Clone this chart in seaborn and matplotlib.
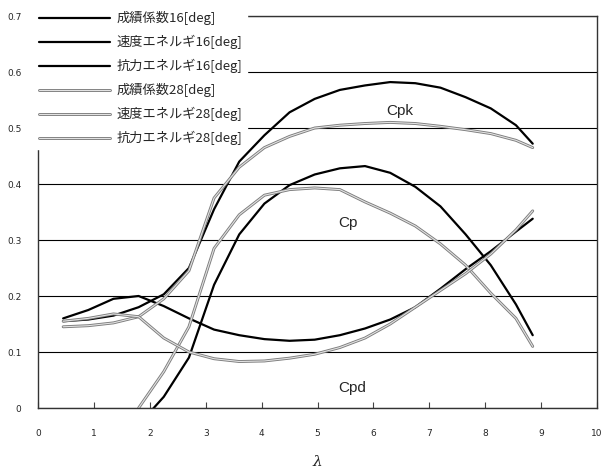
import matplotlib
matplotlib.use("Agg")
import matplotlib.pyplot as plt
import matplotlib.patheffects as pe
import seaborn as sns
import pandas as pd

# tip speed ratio
lam = [0.45, 0.9, 1.35, 1.8, 2.25, 2.7, 3.15, 3.6, 4.05, 4.5,
       4.95, 5.4, 5.85, 6.3, 6.75, 7.2, 7.65, 8.1, 8.55, 8.85]

# 16 deg blades
cpk16 = [0.155, 0.158, 0.165, 0.180, 0.203, 0.250, 0.355, 0.440, 0.487, 0.528,
         0.552, 0.568, 0.576, 0.582, 0.580, 0.572, 0.555, 0.535, 0.505, 0.472]
cpd16 = [0.160, 0.175, 0.195, 0.200, 0.182, 0.160, 0.140, 0.130, 0.123, 0.120,
         0.122, 0.130, 0.142, 0.158, 0.180, 0.213, 0.248, 0.280, 0.315, 0.338]
cp16 = [None, None, None, -0.030, 0.020, 0.090, 0.220, 0.310, 0.365, 0.398,
        0.417, 0.428, 0.432, 0.420, 0.395, 0.360, 0.310, 0.255, 0.185, 0.130]

# 28 deg blades
cpk28 = [0.145, 0.147, 0.152, 0.163, 0.195, 0.245, 0.375, 0.430, 0.465, 0.485,
         0.500, 0.505, 0.508, 0.510, 0.508, 0.503, 0.497, 0.490, 0.478, 0.465]
cpd28 = [0.155, 0.160, 0.168, 0.163, 0.125, 0.100, 0.088, 0.083, 0.084, 0.089,
         0.096, 0.108, 0.125, 0.150, 0.180, 0.210, 0.240, 0.275, 0.318, 0.352]
cp28 = [None, None, None, 0.000, 0.065, 0.145, 0.285, 0.345, 0.380, 0.390,
        0.393, 0.390, 0.368, 0.348, 0.325, 0.293, 0.255, 0.205, 0.160, 0.110]

series = [
    ("成績係数16[deg]", cp16, "16"),
    ("速度エネルギ16[deg]", cpk16, "16"),
    ("抗力エネルギ16[deg]", cpd16, "16"),
    ("成績係数28[deg]", cp28, "28"),
    ("速度エネルギ28[deg]", cpk28, "28"),
    ("抗力エネルギ28[deg]", cpd28, "28"),
]

curve_labels = [("Cpk", 6.48, 0.53), ("Cp", 5.55, 0.33), ("Cpd", 5.62, 0.035)]

sns.set_theme(style="white")
plt.rcParams["font.family"] = ["Noto Sans CJK JP", "DejaVu Sans"]

fig = plt.figure(figsize=(6.13, 4.68), dpi=100)
ax = fig.add_axes([38 / 613, 60 / 468, 559 / 613, 392 / 468])

# hollow grey stroke for the 28 deg curves
gray_fx = [pe.Stroke(linewidth=2.1, foreground="#7c7c7c"), pe.Normal()]

for name, vals, angle in series:
    df = pd.DataFrame({"lam": lam, "val": vals}).dropna()
    if angle == "16":
        sns.lineplot(data=df, x="lam", y="val", ax=ax, color="black",
                     linewidth=1.6, label=name, sort=False)
    else:
        sns.lineplot(data=df, x="lam", y="val", ax=ax, color="#e2e2e2",
                     linewidth=0.8, label=name, sort=False,
                     path_effects=gray_fx)

for txt, x, y in curve_labels:
    ax.text(x, y, txt, fontsize=11, ha="center", va="center",
            family="Liberation Sans")

ax.set_xlim(0, 10)
ax.set_ylim(0, 0.7)
ax.set_xticks(range(0, 11))
ax.set_xticklabels([str(i) for i in range(0, 11)], family="DejaVu Sans", fontsize=6.5)
ax.set_yticks([0, 0.1, 0.2, 0.3, 0.4, 0.5, 0.6, 0.7])
ax.set_yticklabels(["0", "0.1", "0.2", "0.3", "0.4", "0.5", "0.6", "0.7"],
                   family="DejaVu Sans", fontsize=6.5)
ax.tick_params(axis="x", direction="in", length=4, width=0.8, color="#444",
               pad=15, bottom=True)
ax.tick_params(axis="y", length=0, pad=12)
ax.grid(axis="y", color="black", linewidth=0.8)
ax.set_axisbelow(True)
for side in ["left", "bottom", "right", "top"]:
    ax.spines[side].set_color("#333")
    ax.spines[side].set_linewidth(1.0)
ax.set_ylabel("")
ax.set_xlabel("λ", fontsize=11, style="italic", family="DejaVu Serif", labelpad=12)

leg = ax.legend(loc="upper left", bbox_to_anchor=(-0.005, 1.022), frameon=True,
                fontsize=9.5, handlelength=5.4, handletextpad=0.5,
                labelspacing=0.74, borderaxespad=0, borderpad=0.3)
leg.get_frame().set_facecolor("white")
leg.get_frame().set_edgecolor("white")
leg.get_frame().set_alpha(1)
leg.get_frame().set_boxstyle("square", pad=0)

fig.savefig("out.png", dpi=100, facecolor="white")
